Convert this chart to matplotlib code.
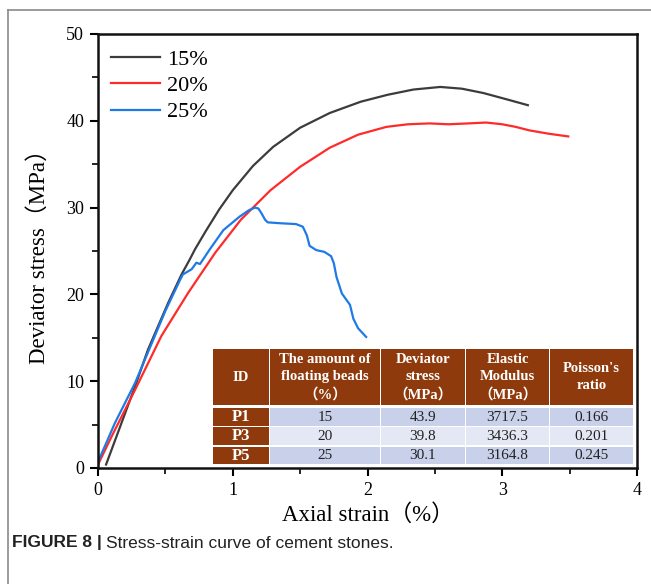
"""Stress-strain curves of cement stones with a summary table."""

import matplotlib

matplotlib.use("Agg")

import matplotlib.pyplot as plt
from matplotlib.lines import Line2D
from matplotlib.patches import Rectangle

SERIF = ["Liberation Serif", "Noto Sans CJK SC"]

# ---- data ---------------------------------------------------------------
strain_15 = [0.06, 0.17, 0.275, 0.37, 0.52, 0.62, 0.68, 0.72, 0.80, 0.90, 1.00,
             1.15, 1.30, 1.50, 1.72, 1.95, 2.15, 2.34, 2.54, 2.70, 2.86, 3.05, 3.19]
stress_15 = [0.4, 5.0, 9.4, 13.6, 19.0, 22.3, 24.0, 25.2, 27.3, 29.8, 32.0,
             34.8, 37.0, 39.2, 40.9, 42.2, 43.0, 43.6, 43.9, 43.7, 43.2, 42.4, 41.8]

strain_20 = [0.0, 0.10, 0.275, 0.47, 0.67, 0.87, 1.06, 1.28, 1.50, 1.72, 1.93,
             2.14, 2.30, 2.46, 2.60, 2.75, 2.88, 3.00, 3.10, 3.20, 3.35, 3.49]
stress_20 = [0.4, 3.6, 9.0, 15.2, 20.2, 24.8, 28.6, 32.0, 34.7, 36.9, 38.4,
             39.3, 39.6, 39.7, 39.6, 39.7, 39.8, 39.6, 39.3, 38.9, 38.5, 38.2]

strain_25 = [0.0, 0.126, 0.275, 0.37, 0.50, 0.61, 0.63, 0.695, 0.73, 0.757, 0.83,
             0.93, 1.05, 1.12, 1.165, 1.19, 1.215, 1.24, 1.26, 1.35, 1.47, 1.52,
             1.55, 1.57, 1.62, 1.68, 1.73, 1.75, 1.77, 1.81, 1.87, 1.895, 1.93, 1.99]
stress_25 = [0.7, 5.2, 9.8, 13.3, 18.1, 21.7, 22.3, 22.9, 23.65, 23.5, 25.2,
             27.4, 28.95, 29.7, 30.0, 29.9, 29.3, 28.6, 28.3, 28.2, 28.1, 27.8,
             26.8, 25.6, 25.1, 24.9, 24.4, 23.6, 22.0, 20.1, 18.8, 17.2, 16.1, 15.1]

series_labels = ["15%", "20%", "25%"]
series_colors = ["#3c3c3c", "#ff2a2a", "#1f7ae6"]

table_header = ["ID", "The amount of\nfloating beads\n（%）", "Deviator\nstress\n（MPa）",
                "Elastic\nModulus\n（MPa）", "Poisson's\nratio"]
table_ids = ["P1", "P3", "P5"]
table_beads = ["15", "20", "25"]
table_stress = ["43.9", "39.8", "30.1"]
table_modulus = ["3717.5", "3436.3", "3164.8"]
table_poisson = ["0.166", "0.201", "0.245"]

# ---- figure ---------------------------------------------------------------
W, H = 651, 584
fig = plt.figure(figsize=(W / 100, H / 100), dpi=100)

X0, X1, Y0, Y1 = 98, 637, 34, 468  # axes box in pixels
ax = fig.add_axes([X0 / W, 1 - Y1 / H, (X1 - X0) / W, (Y1 - Y0) / H])

for xs, ys, lab, col in zip([strain_15, strain_20, strain_25],
                            [stress_15, stress_20, stress_25],
                            series_labels, series_colors):
    ax.plot(xs, ys, color=col, lw=1.6, label=lab)

ax.set_xlim(0, 4)
ax.set_ylim(0, 50)
ax.set_xticks([0, 1, 2, 3, 4])
ax.set_xticks([0.5, 1.5, 2.5, 3.5], minor=True)
ax.set_yticks([0, 10, 20, 30, 40, 50])
ax.set_yticks([5, 15, 25, 35, 45], minor=True)
ax.tick_params(which="major", direction="out", length=6, width=1.5,
               labelsize=13, pad=4)
ax.tick_params(which="minor", direction="out", length=4, width=1.2)
for lab in ax.get_xticklabels() + ax.get_yticklabels():
    lab.set_family(SERIF)
for sp in ax.spines.values():
    sp.set_linewidth(1.8)
    sp.set_color("#111111")

ax.set_xlabel("Axial strain（%）", family=SERIF, fontsize=16.5, labelpad=4)
ax.set_ylabel("Deviator stress（MPa）", family=SERIF, fontsize=16.5, labelpad=12)

handles = [Line2D([], [], color=c, lw=1.6) for c in series_colors]
ax.legend(handles, series_labels, loc="upper left", frameon=False,
          prop={"family": SERIF, "size": 16}, handlelength=2.2,
          handletextpad=0.3, labelspacing=0.25, borderaxespad=0.2,
          bbox_to_anchor=(0.0, 0.995))


# ---- table drawn in axes fraction -----------------------------------------
def fx(px):
    return (px - X0) / (X1 - X0)


def fy(py):
    return (Y1 - py) / (Y1 - Y0)


col_edges = [(212.7, 269.0), (270.0, 380.0), (381.0, 465.0), (466.0, 549.0), (550.0, 633.3)]
header_span = (349.3, 405.3)
row_spans = [(408.3, 426.0), (427.3, 445.3), (446.7, 464.3)]
brown = "#8e3a0c"
row_fill = ["#c9d1ea", "#e4e8f4", "#c9d1ea"]

for (a, b), txt in zip(col_edges, table_header):
    ax.add_patch(Rectangle((fx(a), fy(header_span[1])), fx(b) - fx(a),
                           fy(header_span[0]) - fy(header_span[1]),
                           transform=ax.transAxes, facecolor=brown,
                           edgecolor="none", zorder=5))
    ax.text((fx(a) + fx(b)) / 2, (fy(header_span[0]) + fy(header_span[1])) / 2,
            txt, transform=ax.transAxes, ha="center", va="center",
            color="white", fontsize=10.5, fontweight="bold", family=SERIF,
            linespacing=1.4, zorder=6)

rows = list(zip(table_ids, table_beads, table_stress, table_modulus, table_poisson))
for i, ((top, bot), row) in enumerate(zip(row_spans, rows)):
    for j, ((a, b), txt) in enumerate(zip(col_edges, row)):
        fc = brown if j == 0 else row_fill[i]
        ax.add_patch(Rectangle((fx(a), fy(bot)), fx(b) - fx(a), fy(top) - fy(bot),
                               transform=ax.transAxes, facecolor=fc,
                               edgecolor="none", zorder=5))
        ax.text((fx(a) + fx(b)) / 2, (fy(top) + fy(bot)) / 2, txt,
                transform=ax.transAxes, ha="center", va="center",
                color="white" if j == 0 else "#222222",
                fontsize=12 if j == 0 else 11,
                fontweight="bold" if j == 0 else "normal",
                family=SERIF, zorder=6)

# ---- outer frame and caption -----------------------------------------------
fig.add_artist(Line2D([8 / W, 1], [1 - 10 / H, 1 - 10 / H], color="#8a8a8a", lw=1.2))
fig.add_artist(Line2D([8 / W, 8 / W], [0, 1 - 10 / H], color="#8a8a8a", lw=1.2))

cap_y = 1 - 543 / H
t1 = fig.text(12 / W, cap_y, "FIGURE 8 |", fontsize=12.5, fontweight="bold",
              family="Liberation Sans", va="center", color="#222222")
fig.canvas.draw()
bb = t1.get_window_extent()
fig.text((bb.x1 + 4) / W, cap_y, "Stress-strain curve of cement stones.",
         fontsize=12.5, family="Liberation Sans", va="center", color="#222222")

fig.savefig("out.png", dpi=100)
